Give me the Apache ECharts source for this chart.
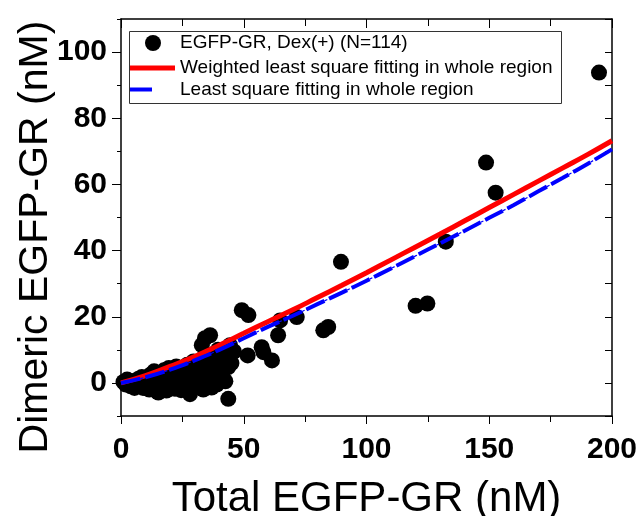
<!DOCTYPE html>
<html>
<head>
<meta charset="utf-8">
<script src="https://cdn.jsdelivr.net/npm/echarts@6/dist/echarts.min.js"></script>
<style>
  html, body { margin: 0; padding: 0; background: #fff; }
  #chart { width: 641px; height: 516px; }
</style>
</head>
<body>
<div id="chart"></div>
<script>
// Total EGFP-GR concentration per cell (nM)
const totalGR = [
  194.7, 148.7, 152.6, 132.3, 120.0, 124.8, 89.6, 82.4, 84.4, 49.2,
  51.9, 64.8, 71.6, 64.0, 57.3, 58.0, 51.6, 61.5, 43.7, 43.7,
  36.3, 34.2, 32.9, 44.4, 28.1, 22.0, 15.2, 36.9, 41.0,
  1, 2, 2.5, 3, 3.5, 4, 5, 5.5, 6, 6.5, 7, 8, 8.5, 9, 10,
  11, 11.5, 12, 12.5, 13, 13.5, 14, 14.5, 15, 15.5, 16, 16.5, 17, 17.5, 18, 18.5, 19, 19.5, 20,
  21, 21.5, 22.5, 23, 23.5, 24, 24.5, 25, 25.5, 26, 26.5, 27, 27.5, 28.5, 29, 29.5, 30,
  30.5, 31, 31.5, 32, 33, 33.5, 34, 34.5, 35, 35.5, 36, 36.5, 37.5, 38, 38.5, 39, 40, 39.5,
  41, 42, 40.5, 42.5, 45, 46,
  9.5, 12, 17, 20.5, 22, 26, 28, 31, 37, 41.5
];
// Dimeric EGFP-GR concentration per cell (nM)
const dimerGR = [
  93.8, 66.6, 57.5, 42.7, 23.3, 24.0, 36.6, 15.9, 16.9, 22.0,
  20.5, 18.9, 19.9, 14.4, 10.8, 9.3, 8.3, 6.8, 4.8, -4.8,
  14.4, 13.5, 11.4, 11.4, -3.4, -1.8, -2.9, -1.4, 9.3,
  0.3, -0.5, 1, 0.6, -0.3, -1, 0.5, -1.5, -0.8, 0.7, 1.2, 0, 1.8, -1.5, 1.2,
  -0.5, -2, 2.5, 0.8, -1.8, 3.5, 1, -2.5, 3, -1, -2.2, 1.5, 0.3, 3.8, 2, -2.3, -0.8, 4.5, 3,
  0, 3, 5, 2.5, 0.8, 4.5, -2.2, -0.5, 3, 1.5, -1.5, 5.5, -2, 0.5, 2, 6.5, 4,
  1, -0.5, 3, 6, 2, -2, 8, 4.5, 0, 6, 3.5, 8.5, 1.5, 5, 2.5, -0.5, 7, 10,
  3, 8, 4.5, 0.5, 6, 9.5,
  0.5, -0.3, -1.5, 1.5, -0.5, 3.5, -1, 5, -0.8, 1.5
];

// Fitted curves evaluated over the whole concentration range
const fitTotal = [0, 10, 20, 30, 40, 50, 60, 70, 80, 90, 100, 110, 120, 130, 140, 150, 160, 170, 180, 190, 200];
const weightedFit = [0, 2.2, 5.0, 8.0, 11.4, 15.0, 18.6, 22.1, 25.8, 29.5, 33.3, 37.2, 41.1, 45.0, 49.0, 53.0, 57.0, 61.0, 65.0, 69.0, 73.2];
const leastFit = [0, 1.7, 4.0, 6.8, 10.0, 13.5, 17.0, 20.3, 23.8, 27.3, 30.9, 34.6, 38.4, 42.2, 46.0, 49.9, 53.8, 57.9, 62.0, 66.2, 70.6];

const yMajorTicks = [0, 20, 40, 60, 80, 100];

const seriesNames = [
  'EGFP-GR, Dex(+) (N=114)',
  'Weighted least square fitting in whole region',
  'Least square fitting in whole region'
];

const toPairs = (xs, ys) => xs.map((x, i) => [x, ys[i]]);

const tickFont = "'Liberation Sans', Arial, sans-serif";
const titleFont = "'Liberation Sans', Arial, sans-serif";
const legendFont = "'Liberation Sans', Arial, sans-serif";

const frameLine = { color: '#000', width: 1.5 };
const tickLine = { color: '#000', width: 1 };

const chart = echarts.init(document.getElementById('chart'), null, { renderer: 'canvas' });

const legendText = { fontFamily: legendFont, fontSize: 19, color: '#000', lineHeight: 19 };
const legendBase = {
  orient: 'horizontal',
  padding: 0,
  itemGap: 0,
  selectedMode: false,
  z: 10
};

chart.setOption({
  animation: false,
  backgroundColor: '#fff',
  grid: { left: 121, right: 29, top: 19, bottom: 100, containLabel: false, outerBoundsMode: 'none' },
  legend: [
    Object.assign({}, legendBase, {
      left: 145, top: 33.5, itemWidth: 16, itemHeight: 16,
      textStyle: Object.assign({}, legendText, { padding: [0, 0, 0, 14] }),
      data: [{ name: seriesNames[0], icon: 'circle' }]
    }),
    Object.assign({}, legendBase, {
      left: 130, top: 58.5, itemWidth: 45, itemHeight: 5,
      textStyle: legendText,
      data: [{ name: seriesNames[1], icon: 'rect' }]
    }),
    Object.assign({}, legendBase, {
      left: 130, top: 80, itemWidth: 22, itemHeight: 4,
      textStyle: Object.assign({}, legendText, { padding: [0, 0, 0, 23] }),
      data: [{ name: seriesNames[2], icon: 'rect' }]
    })
  ],
  graphic: [
    {
      type: 'rect', z: 5,
      shape: { x: 129.5, y: 31.5, width: 432, height: 72 },
      style: { fill: '#fff', stroke: '#333', lineWidth: 1 }
    },
    {
      type: 'text', z: 5,
      x: 36, y: 237, rotation: Math.PI / 2,
      style: {
        text: 'Dimeric EGFP-GR (nM)',
        font: "41px 'Liberation Sans', Arial, sans-serif",
        fill: '#000', align: 'center', verticalAlign: 'middle'
      }
    }
  ],
  xAxis: [
    {
      type: 'value', position: 'bottom', min: 0, max: 200, interval: 50,
      axisLine: { onZero: false, lineStyle: frameLine },
      axisTick: { length: 8, lineStyle: tickLine },
      minorTick: { show: true, splitNumber: 2, length: 6, lineStyle: tickLine },
      splitLine: { show: false },
      axisLabel: { fontFamily: tickFont, fontWeight: 'bold', fontSize: 30, color: '#000', margin: 19 },
      name: 'Total EGFP-GR (nM)', nameLocation: 'middle', nameGap: 62,
      nameTextStyle: { fontFamily: titleFont, fontSize: 42, color: '#000' }
    },
    {
      type: 'value', position: 'top', min: 0, max: 200, interval: 50,
      axisLine: { onZero: false, lineStyle: frameLine },
      axisTick: { inside: true, length: 9, lineStyle: tickLine },
      minorTick: { show: true, splitNumber: 2, length: 7, lineStyle: tickLine },
      splitLine: { show: false },
      axisLabel: { show: false }
    }
  ],
  yAxis: [
    {
      type: 'value', position: 'left', min: -10, max: 110, interval: 10,
      axisLine: { onZero: false, lineStyle: frameLine },
      axisTick: { length: 4, lineStyle: tickLine },
      splitLine: { show: false },
      axisLabel: {
        fontFamily: tickFont, fontWeight: 'bold', fontSize: 30, color: '#000', margin: 14,
        formatter: v => (yMajorTicks.indexOf(v) >= 0 ? String(v) : '')
      }
    },
    {
      type: 'value', position: 'right', min: -10, max: 110, interval: 10,
      axisLine: { onZero: false, lineStyle: frameLine },
      axisTick: { inside: true, length: 7, lineStyle: tickLine },
      splitLine: { show: false },
      axisLabel: { show: false }
    },
    {
      type: 'value', position: 'left', min: -10, max: 110,
      axisLine: { show: false },
      axisTick: { length: 9, lineStyle: tickLine, customValues: yMajorTicks },
      splitLine: { show: false },
      axisLabel: { show: false }
    }
  ],
  series: [
    {
      name: seriesNames[0], type: 'scatter', xAxisIndex: 0, yAxisIndex: 0,
      data: toPairs(totalGR, dimerGR),
      symbol: 'circle', symbolSize: 16,
      itemStyle: { color: '#000', opacity: 1 },
      z: 2
    },
    {
      name: seriesNames[1], type: 'line', xAxisIndex: 0, yAxisIndex: 0,
      data: toPairs(fitTotal, weightedFit),
      smooth: true, showSymbol: false, symbol: 'none',
      lineStyle: { color: '#ff0000', width: 5 },
      itemStyle: { color: '#ff0000' },
      z: 3
    },
    {
      name: 'least-square-guide', type: 'line', xAxisIndex: 0, yAxisIndex: 0,
      data: toPairs(fitTotal, leastFit),
      smooth: true, showSymbol: false, symbol: 'none',
      lineStyle: { color: '#0000ff', width: 1.2, type: [3, 2] },
      z: 4, silent: true
    },
    {
      name: seriesNames[2], type: 'line', xAxisIndex: 0, yAxisIndex: 0,
      data: toPairs(fitTotal, leastFit),
      smooth: true, showSymbol: false, symbol: 'none',
      lineStyle: { color: '#0000ff', width: 4, type: [20, 5] },
      itemStyle: { color: '#0000ff' },
      z: 4
    }
  ]
});
</script>
</body>
</html>
